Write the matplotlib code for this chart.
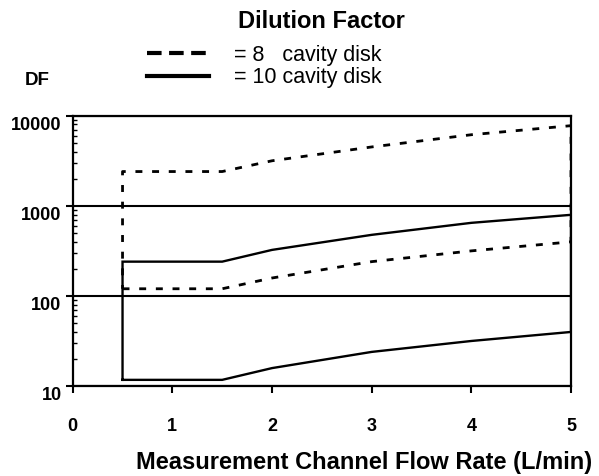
import numpy as np
import matplotlib
matplotlib.use('Agg')
import matplotlib.pyplot as plt
from matplotlib.lines import Line2D
from matplotlib.transforms import ScaledTranslation

plt.rcParams['font.family'] = ['Liberation Sans', 'DejaVu Sans']

# flow rate (L/min) and dilution factor envelopes
flow = [0.5, 1.5, 2, 3, 4, 5]
df8_high = [2400, 2400, 3160, 4500, 6150, 7750]
df8_low = [120, 120, 158, 240, 316, 398]
df10_high = [240, 240, 324, 476, 647, 794]
df10_low = [11.7, 11.7, 15.8, 23.9, 31.6, 39.8]

y_ticks = [10, 100, 1000, 10000]
y_labels = ['10', '100', '1000', '10000']
x_ticks = [0, 1, 2, 3, 4, 5]

W, H = 599, 476
fig = plt.figure(figsize=(W / 100, H / 100), dpi=100)
ax = fig.add_axes([72.7 / W, 1 - 386 / H, (571 - 72.7) / W, (386 - 115.7) / H])


def envelope(low, high):
    # closed outline: low curve, up at right end, high curve back, down at left
    xs = np.r_[flow, flow[::-1], flow[:1]]
    ys = np.r_[low, high[::-1], low[:1]]
    return xs, ys


xs, ys = envelope(df8_low, df8_high)
ax.plot(xs, ys, color='black', lw=2, linestyle=(0, (2.5, 3.5)))
xs, ys = envelope(df10_low, df10_high)
ax.plot(xs, ys, color='black', lw=1.7, solid_joinstyle='miter')

ax.set_yscale('log')
ax.set_xlim(0, 5)
ax.set_ylim(10, 10000)

ax.set_yticks(y_ticks)
ax.set_yticklabels(y_labels)
ax.set_xticks(x_ticks)
ax.set_xticklabels([str(t) for t in x_ticks])

ax.grid(axis='y', which='major', color='black', lw=1.5)
for s in ax.spines.values():
    s.set_linewidth(1.6)

ax.tick_params(axis='y', which='major', direction='out', length=5, width=1.5,
               pad=3, labelsize=13)
ax.tick_params(axis='y', which='minor', direction='in', length=3, width=1)
ax.tick_params(axis='x', which='major', direction='out', length=5, width=1.5,
               pad=18, labelsize=13)
ax.tick_params(axis='x', which='minor', bottom=False)
for lab in ax.get_yticklabels() + ax.get_xticklabels():
    lab.set_fontweight('bold')
# y labels sit a little under their ticks in the original
off = ScaledTranslation(0, -8 / 100, fig.dpi_scale_trans)
for lab in ax.get_yticklabels():
    lab.set_transform(lab.get_transform() + off)

fig.text(321 / W, 1 - 21 / H, 'Dilution Factor', ha='center', va='center',
         fontsize=17, fontweight='bold')
fig.text(25 / W, 1 - 80 / H, 'DF', ha='left', va='center',
         fontsize=13.5, fontweight='bold')
fig.text(592 / W, 1 - 462 / H, 'Measurement Channel Flow Rate (L/min)',
         ha='right', va='center', fontsize=17, fontweight='bold')

handles = [Line2D([], [], color='black', lw=3, linestyle=(0, (3.5, 1.8))),
           Line2D([], [], color='black', lw=3)]
fig.legend(handles, ['= 8   cavity disk', '= 10 cavity disk'],
           loc='upper left', bbox_to_anchor=(147 / W, 1 - 45 / H),
           frameon=False, fontsize=15.5, handlelength=2.9, handletextpad=1.15,
           labelspacing=0.05, borderpad=0, borderaxespad=0)

fig.savefig('out.png', dpi=100)
